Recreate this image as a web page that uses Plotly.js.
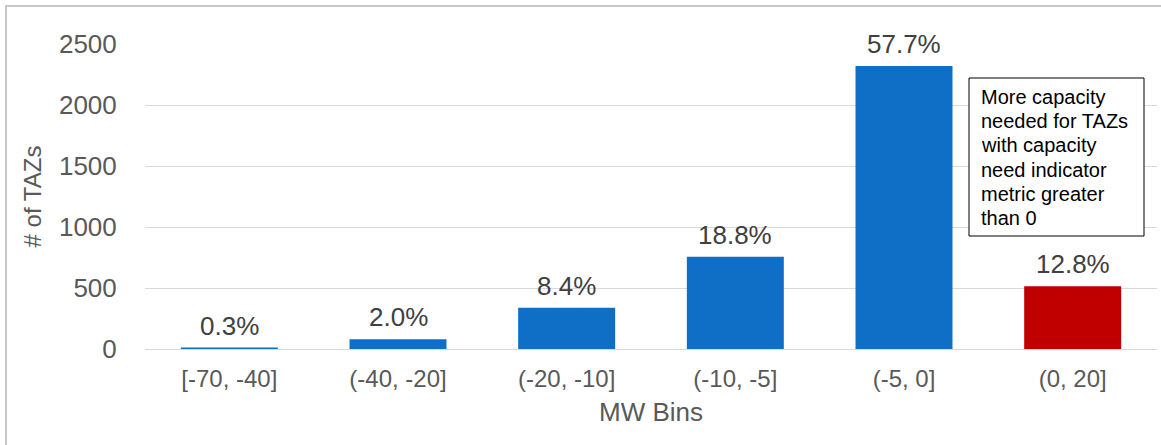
<!DOCTYPE html>
<html>
<head>
<meta charset="utf-8">
<script src="https://cdn.plot.ly/plotly-3.0.1.min.js"></script>
<style>
html,body{margin:0;padding:0;background:#fff;}
#wrap{position:relative;width:1161px;height:445px;}
#chart{width:1161px;height:445px;}
#frame{position:absolute;left:5px;top:5px;width:1160px;height:445px;border-left:2px solid #c8c8c8;border-top:2px solid #c8c8c8;pointer-events:none;}
</style>
</head>
<body>
<div id="wrap">
<div id="chart"></div>
<div id="frame"></div>
</div>
<script>
const categories = ["[-70, -40]", "(-40, -20]", "(-20, -10]", "(-10, -5]", "(-5, 0]", "(0, 20]"];
const counts = [12, 80, 338, 756, 2320, 515];
const pctLabels = ["0.3%", "2.0%", "8.4%", "18.8%", "57.7%", "12.8%"];
const barColors = ["#0F6FC6", "#0F6FC6", "#0F6FC6", "#0F6FC6", "#0F6FC6", "#C00000"];
const yTicks = [0, 500, 1000, 1500, 2000, 2500];
const noteLines = ["More capacity", "needed for TAZs", "with capacity", "need indicator", "metric greater", "than 0"];

const FONT = "Liberation Sans, Arial, sans-serif";
const L = 145, R = 1157, T = 44, B = 349;
const px = v => (v - L) / (R - L);
const py = v => (B - v) / (B - T);

const trace = {
  type: "bar",
  x: categories,
  y: counts,
  marker: {color: barColors, line: {width: 0}},
  hoverinfo: "none"
};

const annotations = categories.map((c, i) => ({
  x: c, y: counts[i], xref: "x", yref: "y",
  text: pctLabels[i], showarrow: false,
  yanchor: "bottom", yshift: 5,
  font: {family: FONT, size: 26, color: "#404040"}
}));

noteLines.forEach((line, i) => {
  annotations.push({
    xref: "paper", yref: "paper",
    x: px(980), y: py(97 + 24.2 * i),
    xanchor: "left", yanchor: "middle",
    text: line, showarrow: false, align: "left",
    borderpad: 0,
    font: {family: FONT, size: 20, color: "#000"}
  });
});

const layout = {
  width: 1161, height: 445,
  margin: {l: 145, r: 4, t: 44, b: 96},
  paper_bgcolor: "#fff", plot_bgcolor: "#fff",
  showlegend: false,
  bargap: 0.425,
  font: {family: FONT},
  xaxis: {
    type: "category",
    tickfont: {family: FONT, size: 24, color: "#595959"},
    showgrid: false, showline: false, zeroline: false,
    ticks: "outside", ticklen: 8, tickcolor: "rgba(0,0,0,0)",
    title: {text: "MW Bins", font: {family: FONT, size: 26, color: "#595959"}, standoff: 12}
  },
  yaxis: {
    range: [0, 2500],
    tickvals: yTicks,
    ticktext: yTicks.map(String),
    tickfont: {family: FONT, size: 26, color: "#595959"},
    showgrid: true, gridcolor: "#d9d9d9", gridwidth: 1,
    zeroline: true, zerolinecolor: "#d9d9d9", zerolinewidth: 1,
    showline: false,
    ticks: "outside", ticklen: 22, tickcolor: "rgba(0,0,0,0)",
    title: {text: "# of TAZs", font: {family: FONT, size: 24, color: "#595959"}, standoff: 10}
  },
  shapes: [{
    type: "rect", xref: "paper", yref: "paper",
    x0: px(969), x1: px(1144), y0: py(236), y1: py(78),
    line: {color: "#000", width: 1}, fillcolor: "#fff", layer: "above"
  }],
  annotations: annotations
};

Plotly.newPlot("chart", [trace], layout, {displayModeBar: false, staticPlot: true});
</script>
</body>
</html>
